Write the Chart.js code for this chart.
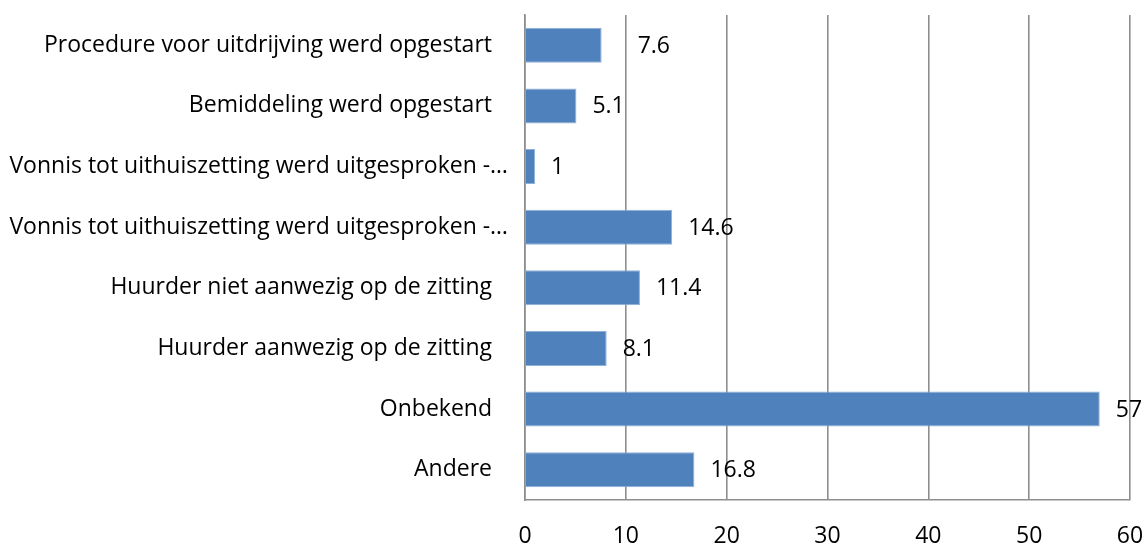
<!DOCTYPE html>
<html>
<head>
<meta charset="utf-8">
<style>
  html, body { margin: 0; padding: 0; background: #fff; }
  #wrap { width: 1146px; height: 545px; position: relative; }
</style>
<script src="https://cdn.jsdelivr.net/npm/chart.js@4/dist/chart.umd.min.js"></script>
</head>
<body>
<div id="wrap"><canvas id="c" width="1146" height="545"></canvas></div>
<script>
// Categories, top to bottom
const categories = [
  "Procedure voor uitdrijving werd opgestart",
  "Bemiddeling werd opgestart",
  "Vonnis tot uithuiszetting werd uitgesproken -…",
  "Vonnis tot uithuiszetting werd uitgesproken -…",
  "Huurder niet aanwezig op de zitting",
  "Huurder aanwezig op de zitting",
  "Onbekend",
  "Andere"
];
// Percentages per category
const values = [7.6, 5.1, 1, 14.6, 11.4, 8.1, 57, 16.8];
// Value axis ticks
const xTicks = [0, 10, 20, 30, 40, 50, 60];

const FONT = "'Open Sans', 'Noto Sans', sans-serif";
const GRID = '#8E8E8E';

// Truncated category labels sit a little closer to the axis
const labelNudge = {
  id: 'labelNudge',
  beforeDraw(chart, args, opts) {
    const scale = chart.scales.y;
    const items = scale.getLabelItems(chart.chartArea);
    items.forEach((item, i) => {
      if (item.label.endsWith('…') && !item._nudged) {
        item.options.translation[0] += opts.shift;
        item._nudged = true;
      }
    });
  }
};

// Writes each bar's value just past its end
const valueLabels = {
  id: 'valueLabels',
  afterDatasetsDraw(chart, args, opts) {
    const ctx = chart.ctx;
    const meta = chart.getDatasetMeta(0);
    ctx.save();
    ctx.font = opts.size + 'px ' + FONT;
    ctx.fillStyle = '#000';
    ctx.textAlign = 'left';
    ctx.textBaseline = 'middle';
    meta.data.forEach((bar, i) => {
      const extra = (opts.extra && opts.extra[i]) || 0;
      ctx.fillText(String(values[i]), bar.x + opts.offset + extra, bar.y + 1);
    });
    ctx.restore();
  }
};

new Chart(document.getElementById('c'), {
  type: 'bar',
  data: {
    labels: categories,
    datasets: [{
      data: values,
      backgroundColor: '#4F81BD',
      borderColor: '#8FB0D8',
      borderWidth: 1,
      categoryPercentage: 1,
      barPercentage: 0.576
    }]
  },
  options: {
    indexAxis: 'y',
    responsive: false,
    animation: false,
    devicePixelRatio: 1,
    layout: { padding: { top: 15, right: 16, bottom: 0, left: 0 } },
    plugins: {
      legend: { display: false },
      tooltip: { enabled: false },
      labelNudge: { shift: 16 },
      valueLabels: { size: 23, offset: 16, extra: { 0: 20 } }
    },
    scales: {
      x: {
        type: 'linear',
        min: xTicks[0],
        max: xTicks[xTicks.length - 1],
        afterBuildTicks(scale) { scale.ticks = xTicks.map(v => ({ value: v })); },
        afterFit(scale) {
          scale.height = 45;
          scale.paddingLeft = 0;
          scale.paddingRight = 0;
        },
        grid: { color: GRID, lineWidth: 1.6, drawTicks: false },
        border: { color: GRID, width: 1.6 },
        ticks: { color: '#000', font: { family: FONT, size: 23 }, padding: 23 }
      },
      y: {
        afterFit(scale) {
          scale.width = 525;
          scale.paddingTop = 0;
          scale.paddingBottom = 0;
        },
        grid: { display: false, drawTicks: false },
        border: { color: GRID, width: 1.6 },
        ticks: { color: '#000', font: { family: FONT, size: 23 }, padding: 33, autoSkip: false }
      }
    }
  },
  plugins: [labelNudge, valueLabels]
});
</script>
</body>
</html>
